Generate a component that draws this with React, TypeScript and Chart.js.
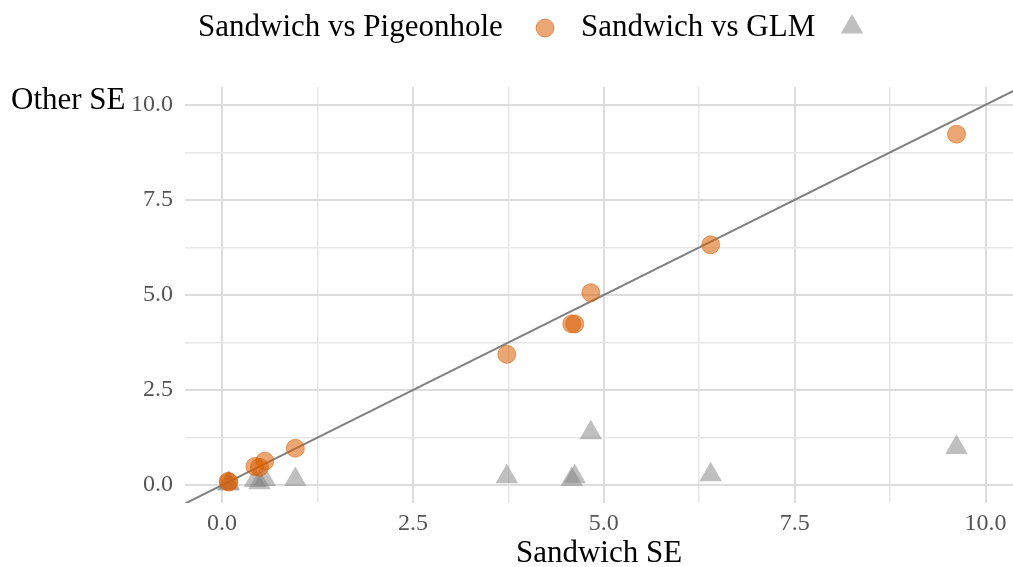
import { useEffect, useRef } from 'react';
import { Chart, registerables } from 'chart.js';

Chart.register(...registerables);

// ---- data ----
const sandwichSE = [0.08, 0.09, 0.43, 0.49, 0.56, 0.96, 3.73, 4.58, 4.62, 4.83, 6.40, 9.62];
const pigeonholeSE = [0.10, 0.08, 0.49, 0.47, 0.63, 0.97, 3.44, 4.24, 4.24, 5.06, 6.32, 9.23];
const glmSE = [0.03, 0.05, 0.12, 0.06, 0.15, 0.15, 0.22, 0.15, 0.22, 1.38, 0.27, 0.99];
const identityLine = [-1, 11];
const majorTicks = [0, 2.5, 5, 7.5, 10];
const minorTicks = [1.25, 3.75, 6.25, 8.75];
const legendLabels = ['Sandwich vs Pigeonhole', 'Sandwich vs GLM'];
const xTitle = 'Sandwich SE';
const yTitle = 'Other SE';

const FONT = "'Liberation Serif', 'Times New Roman', serif";
const ORANGE = 'rgba(217,95,2,0.55)';
const GREY = 'rgba(127,127,127,0.5)';

function triangle(ctx: CanvasRenderingContext2D, cx: number, cy: number, r: number) {
  const s = Math.sin(Math.PI / 3) * r;
  ctx.beginPath();
  ctx.moveTo(cx, cy - r);
  ctx.lineTo(cx + s, cy + r / 2);
  ctx.lineTo(cx - s, cy + r / 2);
  ctx.closePath();
}

const decor = {
  id: 'decor',
  afterDraw(chart: any) {
    const ctx: CanvasRenderingContext2D = chart.ctx;
    const area = chart.chartArea;
    ctx.save();
    ctx.fillStyle = '#000';
    ctx.font = `31px ${FONT}`;
    ctx.textBaseline = 'middle';
    ctx.textAlign = 'left';
    // legend
    const ly = 28;
    ctx.fillText(legendLabels[0], 198, ly);
    ctx.beginPath();
    ctx.arc(545, ly, 9, 0, Math.PI * 2);
    ctx.fillStyle = ORANGE;
    ctx.fill();
    ctx.strokeStyle = ORANGE;
    ctx.lineWidth = 1;
    ctx.stroke();
    ctx.fillStyle = '#000';
    ctx.fillText(legendLabels[1], 581, ly);
    triangle(ctx, 852, ly - 1, 13);
    ctx.fillStyle = GREY;
    ctx.fill();
    // y title
    ctx.fillStyle = '#000';
    ctx.textBaseline = 'alphabetic';
    ctx.fillText(yTitle, 11, 109);
    // x title
    ctx.textAlign = 'center';
    ctx.fillText(xTitle, (area.left + area.right) / 2, 562);
    ctx.restore();
  },
};

export default function App() {
  const ref = useRef<HTMLCanvasElement>(null);
  useEffect(() => {
    document.body.style.margin = '0';
    const allTicks = [...majorTicks, ...minorTicks].sort((a, b) => a - b);
    const isMajor = (v: number) => majorTicks.includes(v);
    const gridColor = (c: any) => (isMajor(c.tick?.value) ? '#dddddd' : '#e7e7e7');
    const gridWidth = (c: any) => (isMajor(c.tick?.value) ? 2 : 1.6);
    const tickFont = { family: FONT, size: 24 };
    const noPad = (s: any) => {
      s.paddingLeft = 0;
      s.paddingRight = 0;
      s.paddingTop = 0;
      s.paddingBottom = 0;
    };
    const chart = new Chart(ref.current!, {
      type: 'scatter',
      data: {
        datasets: [
          {
            type: 'line',
            label: 'identity',
            data: identityLine.map((v) => ({ x: v, y: v })),
            borderColor: '#7f7f7f',
            borderWidth: 2,
            pointRadius: 0,
            fill: false,
            order: 3,
          } as any,
          {
            label: legendLabels[1],
            data: sandwichSE.map((x, i) => ({ x, y: glmSE[i] })),
            pointStyle: 'triangle',
            pointRadius: 13,
            backgroundColor: GREY,
            borderWidth: 0,
            order: 2,
          },
          {
            label: legendLabels[0],
            data: sandwichSE.map((x, i) => ({ x, y: pigeonholeSE[i] })),
            pointStyle: 'circle',
            pointRadius: 9,
            backgroundColor: ORANGE,
            borderColor: ORANGE,
            borderWidth: 1,
            order: 1,
          },
        ],
      },
      options: {
        responsive: false,
        animation: false,
        layout: { autoPadding: false, padding: { top: 87, left: 0, right: 0, bottom: 0 } },
        plugins: { legend: { display: false }, tooltip: { enabled: false } },
        scales: {
          x: {
            type: 'linear',
            min: -0.485,
            max: 10.36,
            afterBuildTicks: (s: any) => {
              s.ticks = allTicks.map((v) => ({ value: v }));
            },
            afterFit: (s: any) => {
              s.height = 64;
              noPad(s);
            },
            border: { display: false },
            grid: { drawTicks: false, color: gridColor, lineWidth: gridWidth },
            ticks: {
              padding: 6,
              color: '#555555',
              font: tickFont,
              autoSkip: false,
              maxRotation: 0,
              callback: (v: any) => (isMajor(Number(v)) ? Number(v).toFixed(1) : ''),
            },
          },
          y: {
            type: 'linear',
            min: -0.47,
            max: 10.47,
            afterBuildTicks: (s: any) => {
              s.ticks = allTicks.map((v) => ({ value: v }));
            },
            afterFit: (s: any) => {
              s.width = 185;
              noPad(s);
            },
            border: { display: false },
            grid: { drawTicks: false, color: gridColor, lineWidth: gridWidth },
            ticks: {
              padding: 12,
              color: '#555555',
              font: tickFont,
              autoSkip: false,
              callback: (v: any) => (isMajor(Number(v)) ? Number(v).toFixed(1) : ''),
            },
          },
        },
      },
      plugins: [decor],
    });
    return () => chart.destroy();
  }, []);
  return (
    <div style={{ width: 1013, height: 567 }}>
      <canvas ref={ref} width={1013} height={567} />
    </div>
  );
}
